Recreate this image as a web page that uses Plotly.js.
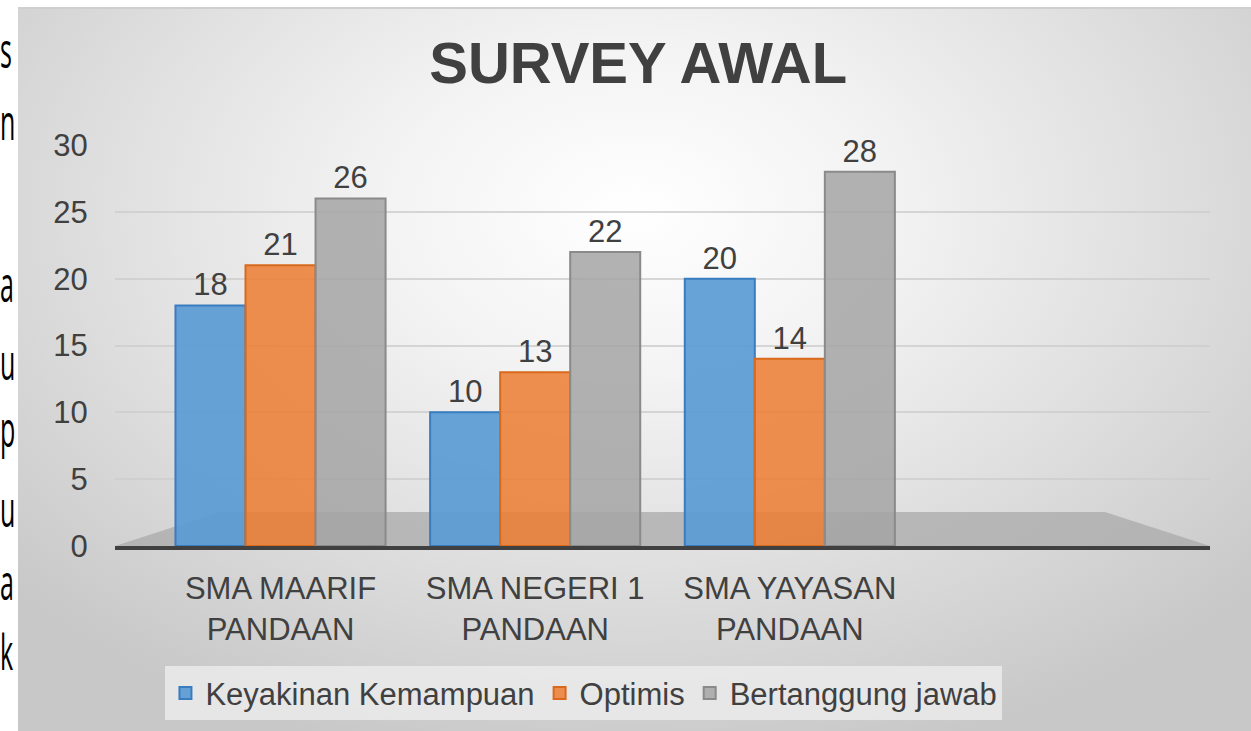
<!DOCTYPE html>
<html>
<head>
<meta charset="utf-8">
<script src="https://cdn.plot.ly/plotly-3.0.1.min.js"></script>
<style>
  html, body { margin: 0; padding: 0; background: #ffffff; width: 1251px; height: 731px; overflow: hidden; }
  #page { position: absolute; left: 0; top: 0; width: 18px; height: 731px; }
  #page span { position: absolute; left: 0; font-family: "Open Sans", sans-serif; font-size: 50px; line-height: 1; color: #000; transform: scaleX(0.5); transform-origin: left top; }
  #frame { position: absolute; left: 18px; top: 7px; width: 1233px; height: 724px;
    background: radial-gradient(ellipse 68% 78% at 50% 28%, #ffffff 0%, #f3f3f3 30%, #e0e0e0 62%, #c8c8c8 100%);
    border-top: 2px solid #cfcfcf; box-sizing: border-box; }
  #chart { position: absolute; left: 0; top: 0; width: 1233px; height: 722px; }
</style>
</head>
<body>
<div id="page"></div>
<div id="frame"><div id="chart"></div></div>
<script>
// ---- data ----
const categories = ['SMA MAARIF<br>PANDAAN', 'SMA NEGERI 1<br>PANDAAN', 'SMA YAYASAN<br>PANDAAN'];
const keyakinanKemampuan = [18, 10, 20];
const optimis = [21, 13, 14];
const bertanggungJawab = [26, 22, 28];
const seriesNames = ['Keyakinan Kemampuan', 'Optimis', 'Bertanggung jawab'];
const yTickValues = [0, 5, 10, 15, 20, 25, 30];
const chartTitle = 'SURVEY AWAL';
// background document fragments (letters at the left edge of the screenshot)
const pageLetters = ['s', 'n', 'a', 'u', 'p', 'u', 'a', 'k'];
const pageLetterBaselines = [68, 140, 302, 380, 447, 527, 600, 670];

// ---- background page letters ----
const page = document.getElementById('page');
pageLetters.forEach((ch, i) => {
  const s = document.createElement('span');
  s.textContent = ch;
  s.style.top = (pageLetterBaselines[i] - 44) + 'px';
  page.appendChild(s);
});

// ---- chart ----
const FONT = 'Liberation Sans, Arial, sans-serif';
const TXT = '#404040';
const fills = ['rgba(91,155,213,0.92)', 'rgba(237,125,49,0.85)', 'rgba(165,165,165,0.85)'];
const borders = ['#3a7cc0', '#d86a1e', '#8a8a8a'];
const seriesValues = [keyakinanKemampuan, optimis, bertanggungJawab];

const traces = seriesValues.map((vals, i) => ({
  type: 'bar',
  name: seriesNames[i],
  x: categories,
  y: vals,
  marker: { color: fills[i], line: { color: borders[i], width: 2 } },
  text: vals.map(String),
  textposition: 'outside',
  textfont: { family: FONT, size: 31, color: TXT },
  cliponaxis: false,
  hoverinfo: 'x+y+name'
}));

const layout = {
  width: 1233,
  height: 722,
  paper_bgcolor: 'rgba(0,0,0,0)',
  plot_bgcolor: 'rgba(0,0,0,0)',
  margin: { l: 97, r: 41, t: 136, b: 185 },
  barmode: 'group',
  bargap: 0.175,
  bargroupgap: 0,
  font: { family: FONT, color: TXT },
  title: {
    text: chartTitle,
    font: { family: FONT, size: 58, color: TXT, weight: 700 },
    x: 0.503, xref: 'container', xanchor: 'center',
    y: 0.925, yref: 'container', yanchor: 'middle'
  },
  xaxis: {
    type: 'category',
    range: [-0.65, 3.65],
    showline: true,
    linecolor: '#404040',
    linewidth: 4,
    showgrid: false,
    ticks: 'outside',
    ticklen: 12,
    tickcolor: 'rgba(0,0,0,0)',
    tickfont: { family: FONT, size: 31, color: TXT },
    fixedrange: true
  },
  yaxis: {
    range: [0, 30],
    tickvals: yTickValues,
    ticktext: yTickValues.map(String),
    showgrid: true,
    gridcolor: 'rgba(205,205,205,0.8)',
    gridwidth: 2,
    zeroline: false,
    showline: false,
    ticks: 'outside',
    ticklen: 20,
    tickcolor: 'rgba(0,0,0,0)',
    tickfont: { family: FONT, size: 31, color: TXT },
    fixedrange: true
  },
  shapes: [{
    type: 'path',
    xref: 'paper', yref: 'paper',
    path: 'M 0 0 L 0.096 0.085 L 0.904 0.085 L 1 0 Z',
    fillcolor: 'rgba(170,170,170,0.75)',
    line: { width: 0 },
    layer: 'below'
  }],
  legend: {
    orientation: 'h',
    xref: 'container', x: 0.459, xanchor: 'center',
    yref: 'container', y: 0.052, yanchor: 'middle',
    bgcolor: 'rgba(235,235,235,0.85)',
    font: { family: FONT, size: 31, color: TXT },
    itemwidth: 30,
    traceorder: 'normal'
  },
  showlegend: true
};

Plotly.newPlot('chart', traces, layout, { displayModeBar: false, staticPlot: true });
</script>
</body>
</html>
